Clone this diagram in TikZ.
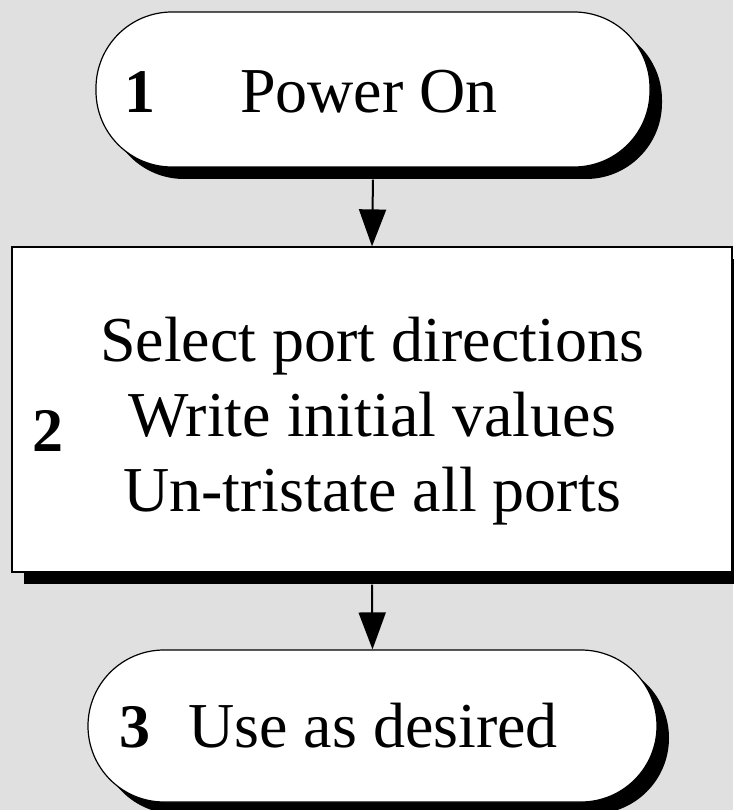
\documentclass[tikz,border=0pt]{standalone}
\usepackage{fontspec}
\setmainfont{Liberation Serif}
\usepackage{tikz}
\usetikzlibrary{arrows.meta,shadows}

\definecolor{bggray}{HTML}{E0E0E0}

\tikzset{
	stepshadow/.style={drop shadow={shadow xshift=12pt, shadow yshift=-12pt, fill=black, opacity=1}},
	terminal/.style={draw, line width=1.2pt, fill=white, rectangle, rounded corners=76pt, stepshadow},
	process/.style={draw, line width=1.2pt, fill=white, rectangle, stepshadow},
	steptext/.style={font=\fontsize{64}{75}\selectfont, inner sep=0pt},
	stepnum/.style={font=\fontsize{62}{75}\selectfont\bfseries, inner sep=0pt},
	flow/.style={line width=2pt, -{Triangle[length=37pt, width=27pt]}}
}

\begin{document}
\begin{tikzpicture}[x=1pt, y=-1pt]
	\fill[bggray] (0,0) rectangle (733,810);
	\useasboundingbox (0,0) rectangle (733,810);

	\node[terminal, minimum width=554pt, minimum height=155pt] (start) at (373,89.5) {};
	\node[process, minimum width=720pt, minimum height=325pt] (setup) at (372,409.5) {};
	\node[terminal, minimum width=569pt, minimum height=152pt] (use) at (372.5,726) {};

	\node[steptext, anchor=base west] (starttxt) at (240,113) {Power On};
	\node[stepnum, anchor=base west] (num1) at (124,113) {1};

	\node[steptext, align=center] (setuptxt) at (372,421) {Select port directions\\Write initial values\\Un-tristate all ports};
	\node[stepnum, anchor=base west] (num2) at (32,451) {2};

	\node[steptext, anchor=base west] (usetxt) at (188,747) {Use as desired};
	\node[stepnum, anchor=base west] (num3) at (119,747) {3};

	\draw[flow] ([yshift=-12pt]start.south) -- (setup.north);
	\draw[flow] ([yshift=-12pt]setup.south) -- (use.north);

\end{tikzpicture}
\end{document}
